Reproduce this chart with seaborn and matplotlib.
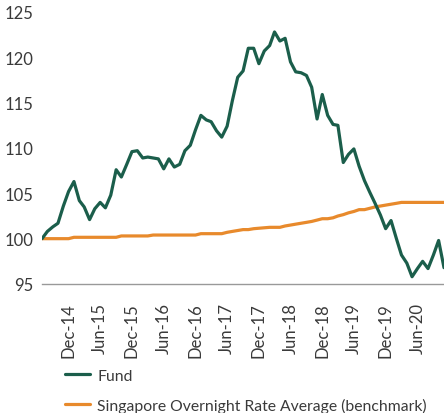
import matplotlib
matplotlib.use("Agg")
import matplotlib.pyplot as plt
import seaborn as sns
import pandas as pd

# Monthly index values, Jul-2014 .. Nov-2020 (rebased to 100)
months = pd.date_range("2014-07-01", "2020-11-01", freq="MS")

fund = [
    100.0, 100.8, 101.3, 101.7, 103.6, 105.2, 106.3, 104.2, 103.5, 102.1,
    103.3, 104.0, 103.4, 104.8, 107.6, 106.8, 108.2, 109.6, 109.7, 108.9,
    109.0, 108.9, 108.8, 107.7, 108.8, 107.9, 108.2, 109.7, 110.3, 112.0,
    113.6, 113.1, 112.9, 111.9, 111.2, 112.4, 115.2, 117.8, 118.5, 121.0,
    121.0, 119.3, 120.7, 121.3, 122.8, 121.8, 122.1, 119.5, 118.4, 118.3,
    118.0, 116.7, 113.2, 115.9, 113.6, 112.6, 112.5, 108.4, 109.3, 109.9,
    108.0, 106.4, 105.1, 103.9, 102.6, 101.1, 102.0, 100.0, 98.2, 97.3,
    95.8, 96.7, 97.5, 96.7, 98.2, 99.8, 96.8,
]

benchmark = [
    100.0, 100.0, 100.0, 100.0, 100.0, 100.0, 100.15, 100.15, 100.15, 100.15,
    100.15, 100.15, 100.15, 100.15, 100.15, 100.3, 100.3, 100.3, 100.3, 100.3,
    100.3, 100.4, 100.4, 100.4, 100.4, 100.4, 100.4, 100.4, 100.4, 100.4,
    100.55, 100.55, 100.55, 100.55, 100.55, 100.7, 100.8, 100.9, 101.0, 101.0,
    101.1, 101.15, 101.2, 101.25, 101.25, 101.25, 101.4, 101.5, 101.6, 101.7,
    101.8, 101.9, 102.05, 102.2, 102.2, 102.3, 102.5, 102.65, 102.85, 103.0,
    103.2, 103.2, 103.35, 103.5, 103.6, 103.7, 103.8, 103.9, 104.0, 104.0,
    104.0, 104.0, 104.0, 104.0, 104.0, 104.0, 104.0,
]

tick_dates = pd.date_range("2014-12-01", "2020-06-01", freq="6MS")
tick_labels = [d.strftime("%b-%y") for d in tick_dates]
y_ticks = [95, 100, 105, 110, 115, 120, 125]

series_names = ["Fund", "Singapore Overnight Rate Average (benchmark)"]
colors = ["#1b5e4b", "#e88a2c"]

df = pd.DataFrame({"date": months, series_names[0]: fund, series_names[1]: benchmark})
long_df = df.melt(id_vars="date", var_name="series", value_name="value")

sns.set_style("white")
plt.rcParams["font.family"] = ["Lato", "DejaVu Sans"]
text_color = "#3a3a3a"

fig = plt.figure(figsize=(4.44, 4.14), dpi=100)
ax = fig.add_axes([42 / 444, (414 - 285) / 414, (444 - 42) / 444, (285 - 13) / 414])

sns.lineplot(data=long_df, x="date", y="value", hue="series",
             hue_order=series_names[::-1], palette=colors[::-1],
             linewidth=2.3, ax=ax, legend=False)

ax.set_xlim(months[0], months[-1])
ax.set_ylim(95, 125)
ax.set_yticks(y_ticks)
ax.set_yticklabels([str(v) for v in y_ticks], fontsize=12, color=text_color)
ax.set_xticks(tick_dates)
ax.set_xticklabels(tick_labels, rotation=90, fontsize=12, color=text_color)
ax.set_xlabel("")
ax.set_ylabel("")

for side in ["top", "right", "left"]:
    ax.spines[side].set_visible(False)
ax.spines["bottom"].set_color("#999999")
ax.spines["bottom"].set_linewidth(1)
ax.tick_params(axis="x", length=5, width=1, color="#999999", pad=8)
ax.tick_params(axis="y", length=0, pad=6)

handles = [plt.Line2D([], [], color=c, linewidth=2.3) for c in colors]
fig.legend(handles, series_names, loc="upper left",
           bbox_to_anchor=(57 / 444, 1 - 362 / 414), frameon=False,
           fontsize=11.3, handlelength=1.6, handletextpad=0.45,
           labelspacing=0.95, borderpad=0, labelcolor=text_color)

fig.savefig("out.png", dpi=100)
plt.close(fig)
